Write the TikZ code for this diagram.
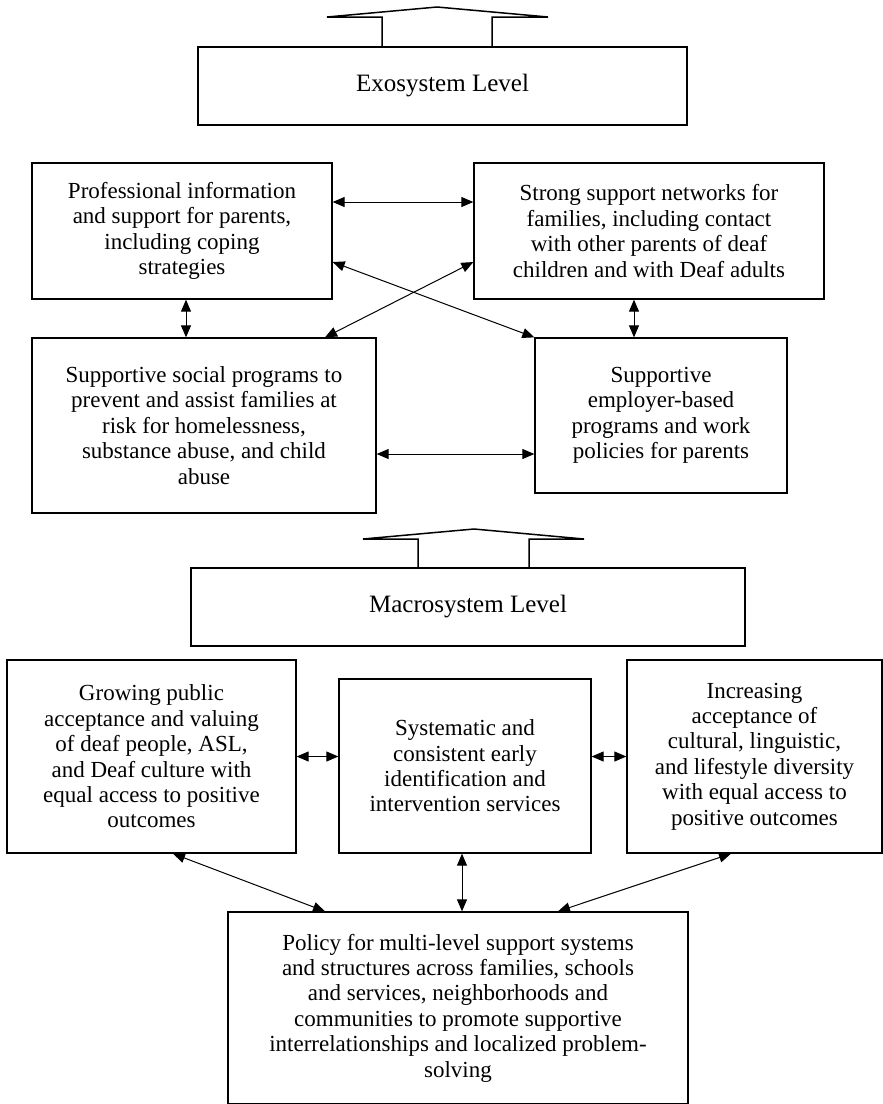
\documentclass[tikz,border=0pt]{standalone}
\usepackage{fontspec}
\setmainfont{Liberation Serif}
\usetikzlibrary{arrows.meta,calc}
\begin{document}
\begin{tikzpicture}[x=1pt,y=-1pt,
  box/.style={draw, line width=1.3pt, inner sep=0pt, align=center,
    font=\fontsize{23}{25.4}\selectfont},
  levelbox/.style={draw, line width=1.3pt, inner sep=0pt, align=center,
    font=\fontsize{25}{28}\selectfont},
  arr/.style={line width=1pt, {Triangle[length=12pt,width=10pt]}-{Triangle[length=12pt,width=10pt]}},
  bigarrow/.style={draw, line width=1.5pt, line join=miter}]
\useasboundingbox (0,0) rectangle (883,1104);

% level boxes
\node[levelbox, minimum width=489pt, minimum height=78pt] (exo) at (442.5,86) {Exosystem Level};
\node[levelbox, minimum width=554pt, minimum height=78pt] (macro) at (468,607) {Macrosystem Level};

% big hollow arrows
\draw[bigarrow] (382,47) -- (382,17) -- (327,17) -- (437,7) -- (548,17) -- (492,17) -- (492,47);
\draw[bigarrow] (418,568) -- (418,539) -- (363,539) -- (474,529) -- (584,539) -- (529,539) -- (529,568);

% exosystem boxes
\node[box, minimum width=300pt, minimum height=136pt] (A) at (182,231)
  {Professional information\\and support for parents,\\including coping\\strategies};
\node[box, minimum width=350pt, minimum height=136pt] (B) at (649,231)
  {Strong support networks for\\families, including contact\\with other parents of deaf\\children and with Deaf adults};
\node[box, minimum width=344pt, minimum height=175pt] (C) at (204,425.5)
  {Supportive social programs to\\prevent and assist families at\\risk for homelessness,\\substance abuse, and child\\abuse};
\node[box, minimum width=252pt, minimum height=155pt] (D) at (661,415.5)
  {Supportive\\employer-based\\programs and work\\policies for parents};

% macrosystem boxes
\node[box, minimum width=289pt, minimum height=193pt] (E) at (151.5,756.5)
  {Growing public\\acceptance and valuing\\of deaf people, ASL,\\and Deaf culture with\\equal access to positive\\outcomes};
\node[box, minimum width=252pt, minimum height=174pt] (F) at (465,766)
  {Systematic and\\consistent early\\identification and\\intervention services};
\node[box, minimum width=255pt, minimum height=193pt] (G) at (754.5,756.5)
  {Increasing\\acceptance of\\cultural, linguistic,\\and lifestyle diversity\\with equal access to\\positive outcomes};
\node[box, minimum width=460pt, minimum height=192pt] (H) at (458,1008)
  {Policy for multi-level support systems\\and structures across families, schools\\and services, neighborhoods and\\communities to promote supportive\\interrelationships and localized problem-\\solving};

% exosystem connectors
\draw[arr] ([yshift=29pt]A.east) -- ([yshift=29pt]A.east -| B.west);
\draw[arr] ([xshift=4pt]A.south) -- ([xshift=4pt]A.south |- C.north);
\draw[arr] ([xshift=-15pt]B.south) -- ([xshift=-15pt]B.south |- D.north);
\draw[arr] ([yshift=-31pt]A.east) -- (D.north west);
\draw[arr] ([yshift=-31pt]B.west) -- ([xshift=121pt]C.north);
\draw[arr] ([yshift=-28.5pt]C.east) -- ([yshift=-28.5pt]C.east -| D.west);

% macrosystem connectors
\draw[arr] (E.east) -- (E.east -| F.west);
\draw[arr] (E.east -| F.east) -- (E.east -| G.west);
\draw[arr] ([xshift=21.5pt]E.south) -- ([xshift=-133pt]H.north);
\draw[arr] ([xshift=-3pt]F.south) -- ([xshift=-3pt]F.south |- H.north);
\draw[arr] ([xshift=-23.5pt]G.south) -- ([xshift=100pt]H.north);
\end{tikzpicture}
\end{document}
